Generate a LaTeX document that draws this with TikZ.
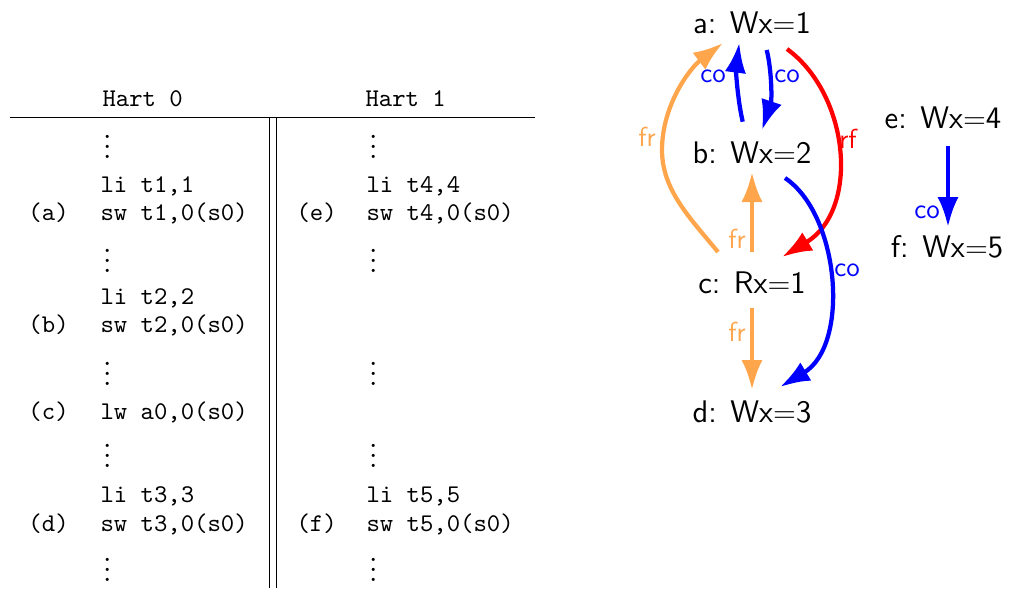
\documentclass[tikz,border=0pt]{standalone}
\usetikzlibrary{arrows.meta}
\definecolor{frc}{RGB}{255,166,77}
\newcommand{\myvdots}{\vbox{\baselineskip4pt\lineskiplimit0pt\hbox{.}\hbox{.}\hbox{.}}}
\begin{document}
\begin{tikzpicture}[x=0.4pt,y=-0.4pt,
  code/.style={anchor=base west, inner sep=0pt, font=\fontsize{10.2}{12}\selectfont\ttfamily},
  ev/.style={anchor=base, inner sep=0pt, font=\fontsize{12.5}{14}\selectfont\sffamily},
  lbl/.style={inner sep=0pt, font=\fontsize{11}{13}\selectfont\sffamily},
  edge/.style={line width=1.7pt, -{Latex[length=12pt,width=8.5pt]}},
  rule/.style={line width=0.4pt}]
\useasboundingbox (0,0) rectangle (1010,588);
% table
\node[code] (h0) at (102,106) {Hart 0};
\node[code] (h1) at (365,106) {Hart 1};
\draw[rule] (10,117) -- (535,117);
\draw[rule] (269.5,117) -- (269.5,588);
\draw[rule] (276,117) -- (276,588);
% Hart 0
\node[code] (v01) at (100,158) {\myvdots};
\node[code] (i01) at (100,192) {li t1,1};
\node[code] (la) at (28,220) {(a)};
\node[code] (ia) at (100,220) {sw t1,0(s0)};
\node[code] (v02) at (100,272) {\myvdots};
\node[code] (i02) at (100,304) {li t2,2};
\node[code] (lb) at (28,332) {(b)};
\node[code] (ib) at (100,332) {sw t2,0(s0)};
\node[code] (v03) at (100,385) {\myvdots};
\node[code] (lc) at (28,419) {(c)};
\node[code] (ic) at (100,419) {lw a0,0(s0)};
\node[code] (v04) at (100,467) {\myvdots};
\node[code] (i03) at (100,502) {li t3,3};
\node[code] (ld) at (28,531) {(d)};
\node[code] (id) at (100,531) {sw t3,0(s0)};
\node[code] (v05) at (100,581) {\myvdots};
% Hart 1
\node[code] (v11) at (366,158) {\myvdots};
\node[code] (i11) at (366,192) {li t4,4};
\node[code] (le) at (296,220) {(e)};
\node[code] (ie) at (366,220) {sw t4,0(s0)};
\node[code] (v12) at (366,272) {\myvdots};
\node[code] (v13) at (366,385) {\myvdots};
\node[code] (v14) at (366,467) {\myvdots};
\node[code] (i12) at (366,502) {li t5,5};
\node[code] (lf) at (296,531) {(f)};
\node[code] (if) at (366,531) {sw t5,0(s0)};
\node[code] (v15) at (366,581) {\myvdots};
% graph
\node[ev] (a) at (752,33) {a: Wx$=$1};
\node[ev] (b) at (752,163) {b: Wx$=$2};
\node[ev] (c) at (752,293) {c: Rx$=$1};
\node[ev] (d) at (752,422) {d: Wx$=$3};
\node[ev] (e) at (943,128) {e: Wx$=$4};
\node[ev] (f) at (947,257) {f: Wx$=$5};
% edges
\draw[edge,blue] ([shift={(-9.3,-41.3)}]b.base) .. controls +(-5.7,-24.7) and +(-3.3,25.3) .. ([shift={(-12.7,9.7)}]a.base)
  node[lbl] (l1) at (713,76) {co};
\draw[edge,blue] ([shift={(14.7,17)}]a.base) .. controls +(5,20) and +(10,-30) .. ([shift={(10,-33)}]b.base)
  node[lbl] (l2) at (787,76) {co};
\draw[edge,red] ([shift={(35,16)}]a.base) .. controls +(63,46) and +(78,-47) .. ([shift={(30,-36)}]c.base)
  node[lbl] (l3) at (848,139) {rf};
\draw[edge,blue] ([shift={(33,15)}]b.base) .. controls +(55,37) and +(70,-42) .. ([shift={(28,-35)}]d.base)
  node[lbl] (l4) at (847,270) {co};
\draw[edge,frc] ([shift={(-34,-41)}]c.base) .. controls +(-28,-34) and +(0,40) .. (662,150)
  .. controls +(0,-45) and +(-33,25) .. ([shift={(-29,10)}]a.base)
  node[lbl] (l5) at (647,137) {fr};
\draw[edge,frc] ([shift={(0,-41)}]c.base) -- ([shift={(0,9)}]b.base)
  node[lbl] (l6) at (737,239) {fr};
\draw[edge,frc] ([shift={(0,15)}]c.base) -- ([shift={(0,-32)}]d.base)
  node[lbl] (l7) at (737,332) {fr};
\draw[edge,blue] ([shift={(5,18)}]e.base) -- ([shift={(1,-30)}]f.base)
  node[lbl] (l8) at (927,212) {co};
\end{tikzpicture}
\end{document}
